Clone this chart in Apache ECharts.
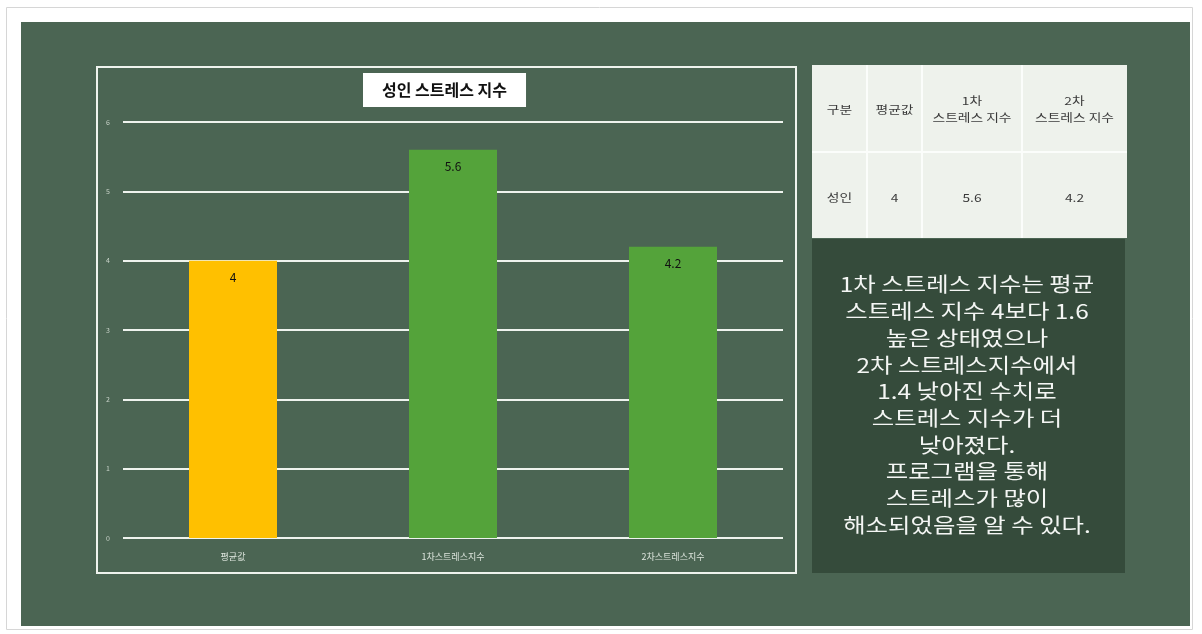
<!DOCTYPE html>
<html><head><meta charset="utf-8">
<script src="https://cdn.jsdelivr.net/npm/echarts@6/dist/echarts.min.js"></script>
<style>html,body{margin:0;padding:0;background:#fff}#c{width:1202px;height:634px}</style>
</head><body><div id="c"></div>
<script>
const categories = ['평균값', '1차스트레스지수', '2차스트레스지수'];
const values = [4, 5.6, 4.2];
const yTicks = [0, 1, 2, 3, 4, 5, 6];
const chartTitle = '성인 스트레스 지수';
const tableHeader = ['구분', '평균값', '1차\n스트레스 지수', '2차\n스트레스 지수'];
const tableRow = ['성인', '4', '5.6', '4.2'];
const noteLines = [
  '1차 스트레스 지수는 평균',
  '스트레스 지수 4보다 1.6',
  '높은 상태였으나',
  '2차 스트레스지수에서',
  '1.4 낮아진 수치로',
  '스트레스 지수가 더',
  '낮아졌다.',
  '프로그램을 통해',
  '스트레스가 많이',
  '해소되었음을 알 수 있다.'
];

const FONT = '"Noto Sans CJK KR", "Noto Sans", sans-serif';
const barColors = ['#FFC000', '#54A33A', '#54A33A'];
const colX = [812, 867, 922, 1022, 1127];
const rowY = [65, 152, 238];

const graphics = [];
graphics.push({type:'rect', z:-10, shape:{x:6.5,y:7.5,width:1186,height:622}, style:{fill:'#fff', stroke:'#d6d6d6', lineWidth:1}, silent:true});
graphics.push({type:'rect', z:-9, shape:{x:21,y:22,width:1169,height:604}, style:{fill:'#4b6553'}, silent:true});
graphics.push({type:'rect', z:-8, shape:{x:97,y:67,width:699,height:506}, style:{fill:'none', stroke:'#eef3ee', lineWidth:2}, silent:true});
// table
graphics.push({type:'rect', shape:{x:colX[0],y:rowY[0],width:colX[4]-colX[0],height:rowY[2]-rowY[0]}, style:{fill:'#eef2ec'}, silent:true});
for (let i = 1; i < colX.length - 1; i++) {
  graphics.push({type:'line', shape:{x1:colX[i],y1:rowY[0],x2:colX[i],y2:rowY[2]}, style:{stroke:'#fbfdfb', lineWidth:2}, silent:true});
}
graphics.push({type:'line', shape:{x1:colX[0],y1:rowY[1],x2:colX[4],y2:rowY[1]}, style:{stroke:'#fbfdfb', lineWidth:2}, silent:true});
[tableHeader, tableRow].forEach((row, r) => {
  row.forEach((t, c) => {
    const cx = (colX[c]+colX[c+1])/2, cy = (rowY[r]+rowY[r+1])/2 + (r===0?1:3);
    graphics.push({type:'text', z:5, x:cx, y:cy, scaleX:1.25,
      style:{text:t, x:0, y:0, align:'center', verticalAlign:'middle', fill:'#3a3a3a', font:'11px ' + FONT, lineHeight:17}, silent:true});
  });
});
// note box
graphics.push({type:'rect', shape:{x:812,y:239,width:313,height:334}, style:{fill:'#354b3b'}, silent:true});
graphics.push({type:'text', z:5, x:967, y:405, scaleX:1.22,
  style:{text:noteLines.join('\n'), x:0, y:0, align:'center', verticalAlign:'middle', fill:'#f4f6f4', font:'20px ' + FONT, lineHeight:26.7}, silent:true});

const chart = echarts.init(document.getElementById('c'));
chart.setOption({
  backgroundColor: '#ffffff',
  animation: false,
  title: {
    text: chartTitle, left: 363, top: 73,
    backgroundColor: '#ffffff', padding: [9, 19, 9, 19],
    textStyle: {fontFamily: FONT, fontSize: 16, fontWeight: 'bold', color: '#111'}
  },
  grid: {left: 123, right: 419, top: 122, bottom: 96, containLabel: false},
  xAxis: {
    type: 'category', data: categories,
    axisLine: {show: false}, axisTick: {show: false},
    axisLabel: {color: '#dde5dd', fontSize: 9, fontFamily: FONT, margin: 14}
  },
  yAxis: {
    type: 'value', min: yTicks[0], max: yTicks[yTicks.length-1], interval: 1,
    axisLine: {show: false}, axisTick: {show: false},
    axisLabel: {color: '#c9d3c9', fontSize: 7, fontFamily: FONT, margin: 13},
    splitLine: {lineStyle: {color: '#eef3ee', width: 2}}
  },
  series: [{
    type: 'bar', data: values.map((v, i) => ({value: v, itemStyle: {color: barColors[i]}})),
    barWidth: '40%', z: 3,
    label: {show: true, position: 'insideTop', distance: 11, color: '#111', fontSize: 12, fontFamily: FONT}
  }],
  graphic: graphics
});
</script></body></html>
